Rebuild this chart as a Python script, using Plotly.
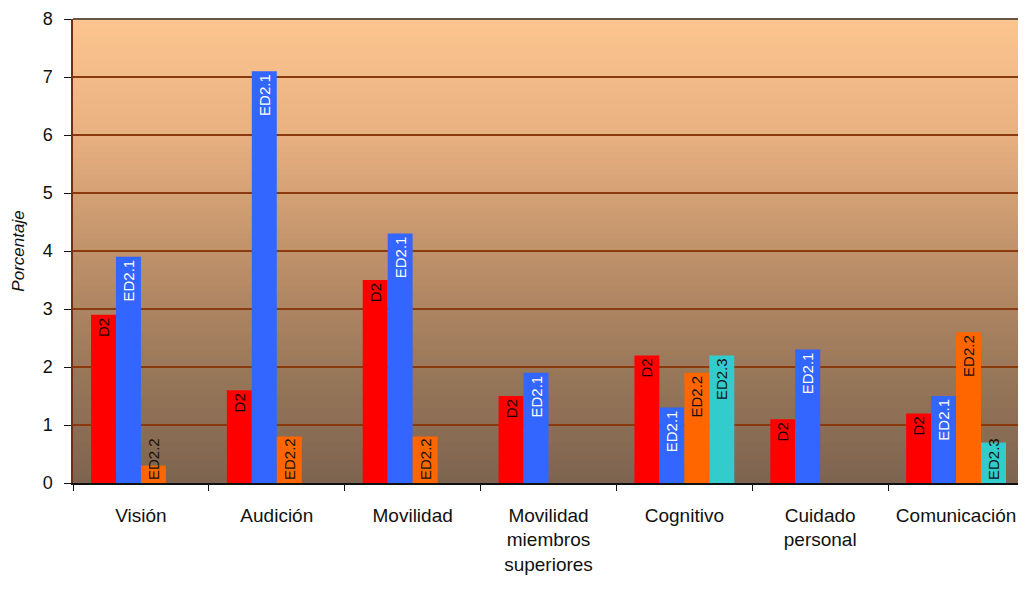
import plotly.graph_objects as go

categories = ["Visión", "Audición", "Movilidad", "Movilidad<br>miembros<br>superiores",
              "Cognitivo", "Cuidado<br>personal", "Comunicación"]
series_names = ["D2", "ED2.1", "ED2.2", "ED2.3"]
d2 = [2.9, 1.6, 3.5, 1.5, 2.2, 1.1, 1.2]
ed21 = [3.9, 7.1, 4.3, 1.9, 1.3, 2.3, 1.5]
ed22 = [0.3, 0.8, 0.8, None, 1.9, None, 2.6]
ed23 = [None, None, None, None, 2.2, None, 0.7]
y_ticks = [0, 1, 2, 3, 4, 5, 6, 7, 8]

values = [d2, ed21, ed22, ed23]
colors = ["#FF0000", "#3366FF", "#FF6600", "#33CCCC"]
text_colors = ["#1a0000", "#FFFFFF", "#111111", "#111111"]

FONT = "Liberation Sans, Arial, sans-serif"
SHORT = 1.0  # bars shorter than this carry their label from the base upward

fig = go.Figure()
for name, vals, col, tcol in zip(series_names, values, colors, text_colors):
    for anchor, keep in (("end", lambda v: v >= SHORT), ("start", lambda v: v < SHORT)):
        sub = [v if (v is not None and keep(v)) else None for v in vals]
        fig.add_trace(go.Bar(
            name=name, x=categories, y=sub,
            offsetgroup=name,
            marker=dict(color=col, line=dict(width=0)),
            text=[name if v is not None else "" for v in sub],
            textposition="inside",
            insidetextanchor=anchor,
            textangle=-90,
            constraintext="none",
            cliponaxis=False,
            textfont=dict(family=FONT, size=15, color=tcol),
        ))

# vertical gradient background (peach to brown)
stops = [(0.0, (125, 100, 80)), (0.25, (154, 120, 90)), (0.5, (192, 146, 106)),
         (0.75, (232, 176, 128)), (1.0, (252, 198, 144))]

def interp(t):
    for (t0, c0), (t1, c1) in zip(stops[:-1], stops[1:]):
        if t0 <= t <= t1:
            f = (t - t0) / (t1 - t0)
            return tuple(round(a + (b - a) * f) for a, b in zip(c0, c1))
    return stops[-1][1]

shapes = []
n = 80
for i in range(n):
    y0 = i / n
    y1 = (i + 1) / n
    c = interp((y0 + y1) / 2)
    shapes.append(dict(type="rect", xref="paper", yref="paper", x0=0, x1=1, y0=y0, y1=y1 + 0.002,
                       fillcolor="rgb(%d,%d,%d)" % c, line=dict(width=0), layer="below"))
# top and right border
shapes.append(dict(type="line", xref="paper", yref="paper", x0=0, x1=1, y0=1, y1=1,
                   line=dict(color="#333333", width=1.5), layer="above"))
shapes.append(dict(type="line", xref="paper", yref="paper", x0=1, x1=1, y0=0, y1=1,
                   line=dict(color="#5a4030", width=1.5), layer="above"))

# page body has an 8px margin: size the figure so the plot lands where the reference has it
fig.update_layout(
    width=1018, height=586,
    margin=dict(l=65, r=2, t=11, b=111, autoexpand=False),
    paper_bgcolor="white",
    plot_bgcolor="rgba(0,0,0,0)",
    barmode="group",
    bargap=0.265,
    bargroupgap=0,
    showlegend=False,
    shapes=shapes,
    font=dict(family=FONT, size=15, color="#111111"),
    xaxis=dict(
        showline=True, linecolor="#111111", linewidth=1.5,
        ticks="outside", tickson="boundaries", ticklen=6, tickcolor="#111111",
        tickfont=dict(family=FONT, size=19, color="#111111"),
        ticklabelstandoff=14,
        showgrid=False,
    ),
    yaxis=dict(
        range=[0, 8], tickvals=y_ticks, ticktext=[str(v) for v in y_ticks],
        showline=True, linecolor="#7a2a10", linewidth=1.5,
        ticks="outside", ticklen=7, tickcolor="#111111",
        ticklabelstandoff=8,
        showgrid=True, gridcolor="#8B3A0E", gridwidth=1.5,
        zeroline=False,
        tickfont=dict(family=FONT, size=18, color="#111111"),
        title=dict(text="<i>Porcentaje</i>", font=dict(family=FONT, size=17, color="#111111"), standoff=14),
    ),
)

fig.write_html("out.html")
